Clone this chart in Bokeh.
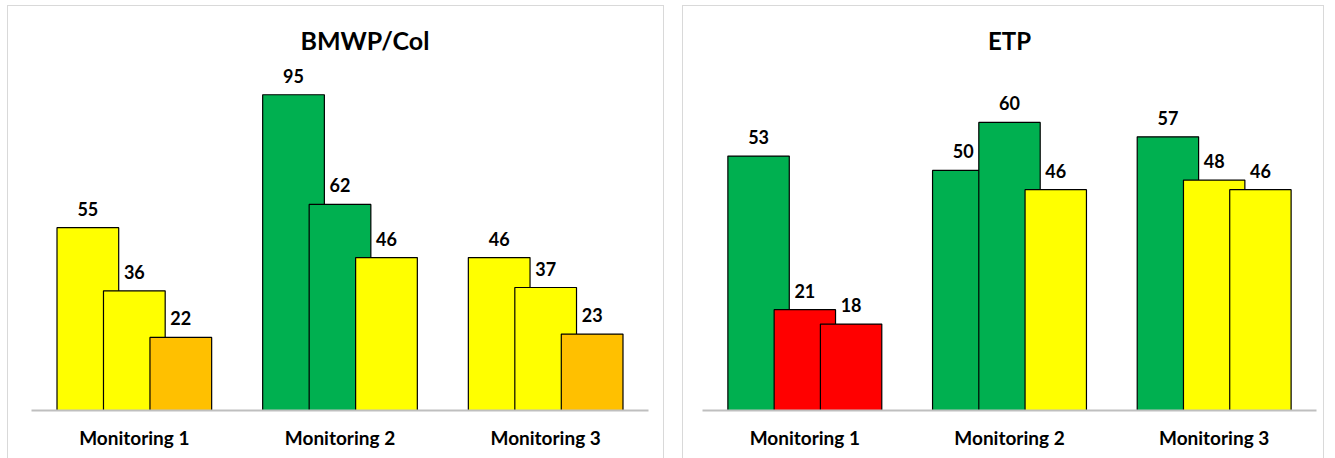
from bokeh.plotting import figure
from bokeh.models import ColumnDataSource, FactorRange, Range1d
from bokeh.transform import dodge
from bokeh.layouts import row
from bokeh.core.properties import value
from bokeh.embed import file_html
from bokeh.resources import INLINE

# ---------------- data ----------------
cats_left = ["Monitoring 1", "Monitoring 2", "Monitoring 3"]
cats_right = ["Monitoring 1", "Monitoring 2", "Monitoring 3"]

# three bars per monitoring (series a, b, c)
bmwp_a = [55, 95, 46]
bmwp_b = [36, 62, 37]
bmwp_c = [22, 46, 23]

etp_a = [53, 50, 57]
etp_b = [21, 60, 48]
etp_c = [18, 46, 46]

GREEN = "#00B050"
YELLOW = "#FFFF00"
ORANGE = "#FFC000"
RED = "#FF0000"

bmwp_col_a = [YELLOW, GREEN, YELLOW]
bmwp_col_b = [YELLOW, GREEN, YELLOW]
bmwp_col_c = [ORANGE, YELLOW, ORANGE]

etp_col_a = [GREEN, GREEN, GREEN]
etp_col_b = [RED, GREEN, YELLOW]
etp_col_c = [RED, YELLOW, YELLOW]

FONT = "Lato"


def panel(title, cats, series, colors, ymax, width, bl, br, margin,
          title_size, title_align, title_offset):
    p = figure(x_range=FactorRange(*cats), y_range=Range1d(0, ymax),
               width=width, height=453, output_backend="svg",
               toolbar_location=None, min_border_left=bl, min_border_right=br,
               min_border_top=55, min_border_bottom=49,
               background_fill_color="white", border_fill_color="white")
    p.margin = margin
    p.styles = {"border-top": "1px solid #D9D9D9",
                "border-left": "1px solid #D9D9D9",
                "border-right": "1px solid #D9D9D9",
                "box-sizing": "border-box"}
    p.title.text = title
    p.title.align = title_align
    p.title.offset = title_offset
    p.title.text_font = FONT
    p.title.text_font_size = title_size
    p.title.text_font_style = "bold"
    p.title.text_color = "black"
    p.title.standoff = 14

    offsets = [-0.226, 0.0, 0.226]
    for vals, cols, off in zip(series, colors, offsets):
        src = ColumnDataSource(dict(x=cats, top=vals, color=cols,
                                    label=[str(v) for v in vals]))
        p.vbar(x=dodge("x", off, range=p.x_range), top="top", bottom=0,
               width=0.30, fill_color="color", line_color="black",
               line_width=1.2, source=src)
        p.text(x=dodge("x", off, range=p.x_range), y="top", text="label",
               text_font=value(FONT), text_font_size="18px",
               text_font_style="bold", text_color="black",
               text_align="center", text_baseline="middle",
               y_offset=-19, source=src)

    p.yaxis.visible = False
    p.xgrid.grid_line_color = None
    p.ygrid.grid_line_color = None
    p.outline_line_color = None
    ax = p.xaxis[0]
    ax.axis_line_color = "#BFBFBF"
    ax.axis_line_width = 2
    ax.major_tick_line_color = None
    ax.minor_tick_line_color = None
    ax.major_label_text_font = FONT
    ax.major_label_text_font_size = "19px"
    ax.major_label_text_font_style = "bold"
    ax.major_label_text_color = "black"
    ax.major_label_standoff = 9
    return p


p1 = panel("BMWP/Col", cats_left, [bmwp_a, bmwp_b, bmwp_c],
           [bmwp_col_a, bmwp_col_b, bmwp_col_c], 105, 657, 23, 17,
           (5, 0, 0, 7), "25px", "left", 269)
p2 = panel("ETP", cats_right, [etp_a, etp_b, etp_c],
           [etp_col_a, etp_col_b, etp_col_c], 72.7, 642, 19, 9,
           (5, 0, 0, 18), "24px", "center", 0)

layout = row(p1, p2)
layout.margin = 0
layout.spacing = 0

open("out.html", "w").write(file_html(layout, INLINE))
